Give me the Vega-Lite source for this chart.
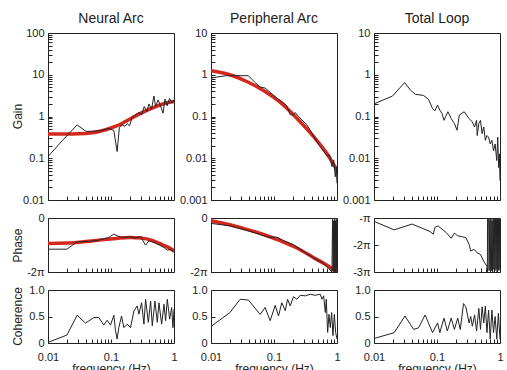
{
"$schema": "https://vega.github.io/schema/vega-lite/v6.json",
"padding": {"left": 10, "top": 11, "right": 2, "bottom": 0},
"config": {
  "font": "Liberation Sans",
  "view": {"stroke": "#222", "strokeWidth": 1},
  "axis": {"grid": false, "domain": false, "tickColor": "#222", "tickSize": -4, "labelColor": "#222", "labelFontSize": 11, "labelPadding": 8, "titleColor": "#222", "titleFontSize": 12, "titleFontWeight": "normal", "labelOverlap": false, "labelFlush": false},
  "title": {"fontSize": 14, "fontWeight": "normal", "color": "#222", "offset": 1}
},
"datasets": {
  "ng": [
    {"f":0.01,"v":0.11},{"f":0.0167,"v":0.26},{"f":0.029,"v":0.63},{"f":0.0403,"v":0.44},{"f":0.064,"v":0.45},{"f":0.0924,"v":0.52},{"f":0.111,"v":0.46},{"f":0.125,"v":0.145},{"f":0.136,"v":0.55},{"f":0.151,"v":0.63},{"f":0.166,"v":0.58},{"f":0.181,"v":0.67},{"f":0.197,"v":0.6},{"f":0.217,"v":0.96},{"f":0.245,"v":1.1},{"f":0.277,"v":1.25},{"f":0.306,"v":1.1},{"f":0.337,"v":1.74},{"f":0.371,"v":1.32},{"f":0.40,"v":2.0},{"f":0.44,"v":1.5},{"f":0.48,"v":3.1},{"f":0.51,"v":1.74},{"f":0.56,"v":2.5},{"f":0.61,"v":1.8},{"f":0.67,"v":1.2},{"f":0.72,"v":2.6},{"f":0.78,"v":1.8},{"f":0.85,"v":2.7},{"f":0.92,"v":2.1},{"f":1.0,"v":2.5}
  ],
  "ngf": [
    {"f":0.01,"v":0.38},{"f":0.02,"v":0.38},{"f":0.03,"v":0.385},{"f":0.05,"v":0.41},{"f":0.07,"v":0.45},{"f":0.1,"v":0.53},{"f":0.15,"v":0.68},{"f":0.2,"v":0.87},{"f":0.3,"v":1.2},{"f":0.5,"v":1.7},{"f":0.7,"v":2.05},{"f":1.0,"v":2.3}
  ],
  "pg": [
    {"f":0.01,"v":0.83},{"f":0.0123,"v":0.88},{"f":0.0177,"v":0.95},{"f":0.0256,"v":0.95},{"f":0.0392,"v":0.95},{"f":0.0501,"v":0.65},{"f":0.0602,"v":0.51},{"f":0.0723,"v":0.48},{"f":0.0868,"v":0.38},{"f":0.111,"v":0.275},{"f":0.133,"v":0.23},{"f":0.16,"v":0.18},{"f":0.181,"v":0.11},{"f":0.204,"v":0.11},{"f":0.217,"v":0.125},{"f":0.245,"v":0.1},{"f":0.277,"v":0.083},{"f":0.333,"v":0.063},{"f":0.4,"v":0.04},{"f":0.48,"v":0.025},{"f":0.543,"v":0.019},{"f":0.614,"v":0.0145},{"f":0.693,"v":0.0114},{"f":0.764,"v":0.012},{"f":0.832,"v":0.0063},{"f":0.885,"v":0.0091},{"f":0.94,"v":0.0036},{"f":0.975,"v":0.0063},{"f":1.0,"v":0.0025}
  ],
  "pgf": [
    {"f":0.01,"v":1.25},{"f":0.02,"v":1.0},{"f":0.037,"v":0.69},{"f":0.068,"v":0.42},{"f":0.125,"v":0.22},{"f":0.23,"v":0.091},{"f":0.425,"v":0.033},{"f":0.69,"v":0.013},{"f":1.0,"v":0.0052}
  ],
  "tg": [
    {"f":0.01,"v":0.2},{"f":0.0197,"v":0.31},{"f":0.0306,"v":0.65},{"f":0.0379,"v":0.43},{"f":0.0453,"v":0.34},{"f":0.061,"v":0.32},{"f":0.073,"v":0.26},{"f":0.085,"v":0.155},{"f":0.0925,"v":0.137},{"f":0.102,"v":0.188},{"f":0.111,"v":0.142},{"f":0.12,"v":0.118},{"f":0.129,"v":0.081},{"f":0.149,"v":0.13},{"f":0.168,"v":0.089},{"f":0.189,"v":0.068},{"f":0.208,"v":0.047},{"f":0.226,"v":0.108},{"f":0.27,"v":0.13},{"f":0.323,"v":0.089},{"f":0.364,"v":0.074},{"f":0.395,"v":0.056},{"f":0.425,"v":0.081},{"f":0.435,"v":0.035},{"f":0.461,"v":0.068},{"f":0.49,"v":0.081},{"f":0.52,"v":0.039},{"f":0.552,"v":0.056},{"f":0.585,"v":0.027},{"f":0.621,"v":0.035},{"f":0.659,"v":0.032},{"f":0.7,"v":0.022},{"f":0.743,"v":0.027},{"f":0.789,"v":0.015},{"f":0.836,"v":0.022},{"f":0.888,"v":0.0088},{"f":0.92,"v":0.032},{"f":0.953,"v":0.006},{"f":0.977,"v":0.0127},{"f":1.0,"v":0.0029}
  ],
  "np": [
    {"f":0.01,"v":-1.155},{"f":0.02,"v":-1.155},{"f":0.029,"v":-0.882},{"f":0.0444,"v":-0.87},{"f":0.064,"v":-0.82},{"f":0.0925,"v":-0.72},{"f":0.111,"v":-0.596},{"f":0.125,"v":-0.658},{"f":0.151,"v":-0.72},{"f":0.204,"v":-0.696},{"f":0.245,"v":-0.745},{"f":0.294,"v":-0.683},{"f":0.333,"v":-0.907},{"f":0.354,"v":-1.006},{"f":0.4,"v":-0.845},{"f":0.481,"v":-0.907},{"f":0.577,"v":-0.994},{"f":0.693,"v":-1.093},{"f":0.783,"v":-1.193},{"f":0.885,"v":-1.155},{"f":1.0,"v":-1.28}
  ],
  "npf": [
    {"f":0.01,"v":-0.944},{"f":0.02,"v":-0.93},{"f":0.04,"v":-0.87},{"f":0.07,"v":-0.81},{"f":0.12,"v":-0.76},{"f":0.2,"v":-0.72},{"f":0.3,"v":-0.74},{"f":0.45,"v":-0.83},{"f":0.6,"v":-0.95},{"f":0.8,"v":-1.08},{"f":1.0,"v":-1.22}
  ],
  "pp": [
    {"f":0.01,"v":-0.2},{"f":0.02,"v":-0.29},{"f":0.037,"v":-0.456},{"f":0.0602,"v":-0.61},{"f":0.0816,"v":-0.71},{"f":0.111,"v":-0.71},{"f":0.1416,"v":-0.835},{"f":0.204,"v":-0.99},{"f":0.294,"v":-1.24},{"f":0.426,"v":-1.47},{"f":0.614,"v":-1.68},{"f":0.736,"v":-1.87},{"f":0.832,"v":-2.0},{"f":0.85,"v":-0.05},{"f":0.87,"v":-1.95},{"f":0.885,"v":-0.1},{"f":0.9,"v":-2.0},{"f":0.915,"v":-0.05},{"f":0.93,"v":-1.95},{"f":0.945,"v":-0.1},{"f":0.96,"v":-2.0},{"f":0.975,"v":-0.05},{"f":0.99,"v":-1.9},{"f":1.0,"v":-0.2}
  ],
  "ppf": [
    {"f":0.01,"v":-0.1},{"f":0.02,"v":-0.25},{"f":0.037,"v":-0.42},{"f":0.068,"v":-0.61},{"f":0.125,"v":-0.84},{"f":0.231,"v":-1.11},{"f":0.426,"v":-1.47},{"f":0.693,"v":-1.75},{"f":1.0,"v":-2.0}
  ],
  "tp": [
    {"f":0.01,"v":-1.125},{"f":0.0209,"v":-1.4375},{"f":0.0403,"v":-1.225},{"f":0.0775,"v":-1.5},{"f":0.0873,"v":-1.6},{"f":0.0925,"v":-1.35},{"f":0.104,"v":-1.29},{"f":0.14,"v":-1.54},{"f":0.168,"v":-1.75},{"f":0.189,"v":-1.56},{"f":0.213,"v":-1.66},{"f":0.255,"v":-1.7},{"f":0.287,"v":-1.725},{"f":0.323,"v":-1.975},{"f":0.343,"v":-2.225},{"f":0.386,"v":-2.16},{"f":0.435,"v":-2.29},{"f":0.49,"v":-2.35},{"f":0.552,"v":-2.6},{"f":0.621,"v":-2.79},{"f":0.63,"v":-3.0},{"f":0.635,"v":-1.0},{"f":0.66,"v":-1.0},{"f":0.67,"v":-2.95},{"f":0.69,"v":-1.05},{"f":0.7,"v":-2.9},{"f":0.72,"v":-1.0},{"f":0.735,"v":-2.95},{"f":0.75,"v":-1.1},{"f":0.765,"v":-3.0},{"f":0.78,"v":-1.0},{"f":0.8,"v":-2.9},{"f":0.815,"v":-1.05},{"f":0.83,"v":-2.95},{"f":0.85,"v":-1.0},{"f":0.865,"v":-2.9},{"f":0.88,"v":-1.05},{"f":0.9,"v":-3.0},{"f":0.915,"v":-1.0},{"f":0.93,"v":-2.95},{"f":0.95,"v":-1.05},{"f":0.965,"v":-2.9},{"f":0.98,"v":-1.0},{"f":1.0,"v":-2.95}
  ],
  "nc": [
    {"f":0.01,"v":0.0125},{"f":0.02,"v":0.15},{"f":0.029,"v":0.525},{"f":0.0393,"v":0.375},{"f":0.0533,"v":0.48},{"f":0.064,"v":0.48},{"f":0.0769,"v":0.3375},{"f":0.0869,"v":0.43},{"f":0.0982,"v":0.3375},{"f":0.111,"v":0.525},{"f":0.118,"v":0.23},{"f":0.125,"v":0.075},{"f":0.133,"v":0.29},{"f":0.147,"v":0.51},{"f":0.16,"v":0.29},{"f":0.181,"v":0.356},{"f":0.204,"v":0.29},{"f":0.231,"v":0.606},{"f":0.261,"v":0.7},{"f":0.277,"v":0.544},{"f":0.306,"v":0.76},{"f":0.333,"v":0.356},{"f":0.354,"v":0.825},{"f":0.391,"v":0.39},{"f":0.426,"v":0.79},{"f":0.452,"v":0.325},{"f":0.499,"v":0.79},{"f":0.543,"v":0.39},{"f":0.577,"v":0.76},{"f":0.637,"v":0.356},{"f":0.693,"v":0.73},{"f":0.736,"v":0.42},{"f":0.783,"v":0.825},{"f":0.853,"v":0.45},{"f":0.918,"v":0.67},{"f":0.964,"v":0.29},{"f":1.0,"v":0.64}
  ],
  "pc": [
    {"f":0.01,"v":0.3125},{"f":0.02,"v":0.575},{"f":0.029,"v":0.825},{"f":0.0392,"v":0.81},{"f":0.0602,"v":0.54},{"f":0.0723,"v":0.67},{"f":0.0868,"v":0.42},{"f":0.1045,"v":0.71},{"f":0.118,"v":0.51},{"f":0.133,"v":0.76},{"f":0.151,"v":0.61},{"f":0.164,"v":0.825},{"f":0.181,"v":0.7},{"f":0.204,"v":0.875},{"f":0.231,"v":0.825},{"f":0.261,"v":0.9},{"f":0.313,"v":0.89},{"f":0.377,"v":0.92},{"f":0.452,"v":0.9},{"f":0.543,"v":0.92},{"f":0.577,"v":0.825},{"f":0.614,"v":0.89},{"f":0.652,"v":0.575},{"f":0.676,"v":0.825},{"f":0.71,"v":0.2},{"f":0.746,"v":0.54},{"f":0.783,"v":0.29},{"f":0.822,"v":0.575},{"f":0.863,"v":0.14},{"f":0.907,"v":0.54},{"f":0.952,"v":0.2},{"f":1.0,"v":0.075}
  ],
  "tc": [
    {"f":0.01,"v":0.085},{"f":0.0209,"v":0.195},{"f":0.031,"v":0.51},{"f":0.0426,"v":0.256},{"f":0.051,"v":0.287},{"f":0.0647,"v":0.53},{"f":0.0851,"v":0.195},{"f":0.102,"v":0.378},{"f":0.111,"v":0.195},{"f":0.129,"v":0.47},{"f":0.146,"v":0.226},{"f":0.168,"v":0.47},{"f":0.189,"v":0.256},{"f":0.213,"v":0.47},{"f":0.234,"v":0.256},{"f":0.264,"v":0.744},{"f":0.287,"v":0.683},{"f":0.323,"v":0.378},{"f":0.343,"v":0.5},{"f":0.364,"v":0.317},{"f":0.395,"v":0.53},{"f":0.425,"v":0.226},{"f":0.461,"v":0.652},{"f":0.49,"v":0.256},{"f":0.52,"v":0.683},{"f":0.552,"v":0.378},{"f":0.585,"v":0.695},{"f":0.621,"v":0.195},{"f":0.659,"v":0.622},{"f":0.7,"v":0.073},{"f":0.743,"v":0.622},{"f":0.789,"v":0.195},{"f":0.836,"v":0.5},{"f":0.888,"v":0.073},{"f":0.942,"v":0.56},{"f":1.0,"v":0.073}
  ]
},
"columns": 3,
"spacing": {"row": 18, "column": 37},
"bounds": "flush",
"concat": [
  {"width": 126, "height": 167, "title": "Neural Arc",
   "layer": [
     {"data": {"name": "ngf"}, "mark": {"type": "line", "color": "#d4281e", "strokeWidth": 3.5, "interpolate": "monotone", "clip": true},
      "encoding": {
        "x": {"field": "f", "type": "quantitative", "scale": {"type": "log", "domain": [0.01, 1]}, "axis": {"values": [0.01,0.02,0.03,0.04,0.05,0.06,0.07,0.08,0.09,0.1,0.2,0.3,0.4,0.5,0.6,0.7,0.8,0.9,1], "labels": false, "title": null}},
        "y": {"field": "v", "type": "quantitative", "scale": {"type": "log", "domain": [0.01, 100]}, "axis": {"values": [0.01,0.02,0.03,0.04,0.05,0.06,0.07,0.08,0.09,0.1,0.2,0.3,0.4,0.5,0.6,0.7,0.8,0.9,1,2,3,4,5,6,7,8,9,10,20,30,40,50,60,70,80,90,100], "labelExpr": "datum.value == 100 ? '100' : datum.value == 10 ? '10' : datum.value == 1 ? '1' : datum.value == 0.1 ? '0.1' : datum.value == 0.01 ? '0.01' : ''", "title": "Gain", "titleX": -24, "titleY": 83}}
      }},
     {"data": {"name": "ng"}, "mark": {"type": "line", "color": "#222", "strokeWidth": 1, "clip": true},
      "encoding": {"x": {"field": "f", "type": "quantitative"}, "y": {"field": "v", "type": "quantitative"}}}
   ]},
  {"width": 126, "height": 167, "title": "Peripheral Arc",
   "layer": [
     {"data": {"name": "pgf"}, "mark": {"type": "line", "color": "#d4281e", "strokeWidth": 3.5, "interpolate": "monotone", "clip": true},
      "encoding": {
        "x": {"field": "f", "type": "quantitative", "scale": {"type": "log", "domain": [0.01, 1]}, "axis": {"values": [0.01,0.02,0.03,0.04,0.05,0.06,0.07,0.08,0.09,0.1,0.2,0.3,0.4,0.5,0.6,0.7,0.8,0.9,1], "labels": false, "title": null}},
        "y": {"field": "v", "type": "quantitative", "scale": {"type": "log", "domain": [0.001, 10]}, "axis": {"values": [0.001,0.002,0.003,0.004,0.005,0.006,0.007,0.008,0.009,0.01,0.02,0.03,0.04,0.05,0.06,0.07,0.08,0.09,0.1,0.2,0.3,0.4,0.5,0.6,0.7,0.8,0.9,1,2,3,4,5,6,7,8,9,10], "labelExpr": "datum.value == 10 ? '10' : datum.value == 1 ? '1' : datum.value == 0.1 ? '0.1' : datum.value == 0.01 ? '0.01' : datum.value == 0.001 ? '0.001' : ''", "title": null}}
      }},
     {"data": {"name": "pg"}, "mark": {"type": "line", "color": "#222", "strokeWidth": 1, "clip": true},
      "encoding": {"x": {"field": "f", "type": "quantitative"}, "y": {"field": "v", "type": "quantitative"}}}
   ]},
  {"width": 126, "height": 167, "title": "Total Loop",
   "data": {"name": "tg"},
   "mark": {"type": "line", "color": "#222", "strokeWidth": 1, "clip": true},
   "encoding": {
     "x": {"field": "f", "type": "quantitative", "scale": {"type": "log", "domain": [0.01, 1]}, "axis": {"values": [0.01,0.02,0.03,0.04,0.05,0.06,0.07,0.08,0.09,0.1,0.2,0.3,0.4,0.5,0.6,0.7,0.8,0.9,1], "labels": false, "title": null}},
     "y": {"field": "v", "type": "quantitative", "scale": {"type": "log", "domain": [0.001, 10]}, "axis": {"values": [0.001,0.002,0.003,0.004,0.005,0.006,0.007,0.008,0.009,0.01,0.02,0.03,0.04,0.05,0.06,0.07,0.08,0.09,0.1,0.2,0.3,0.4,0.5,0.6,0.7,0.8,0.9,1,2,3,4,5,6,7,8,9,10], "labelExpr": "datum.value == 10 ? '10' : datum.value == 1 ? '1' : datum.value == 0.1 ? '0.1' : datum.value == 0.01 ? '0.01' : datum.value == 0.001 ? '0.001' : ''", "title": null}}
   }},
  {"width": 126, "height": 54,
   "layer": [
     {"data": {"name": "npf"}, "mark": {"type": "line", "color": "#d4281e", "strokeWidth": 3.5, "interpolate": "monotone", "clip": true},
      "encoding": {
        "x": {"field": "f", "type": "quantitative", "scale": {"type": "log", "domain": [0.01, 1]}, "axis": {"values": [0.01,0.02,0.03,0.04,0.05,0.06,0.07,0.08,0.09,0.1,0.2,0.3,0.4,0.5,0.6,0.7,0.8,0.9,1], "labels": false, "title": null}},
        "y": {"field": "v", "type": "quantitative", "scale": {"domain": [-2, 0], "nice": false, "zero": false}, "axis": {"values": [-2, -1, 0], "labelExpr": "datum.value == 0 ? '0' : datum.value == -1 ? '-π' : '-2π'", "title": "Phase", "titleX": -24, "titleY": 27}}
      }},
     {"data": {"name": "np"}, "mark": {"type": "line", "color": "#222", "strokeWidth": 1, "clip": true},
      "encoding": {"x": {"field": "f", "type": "quantitative"}, "y": {"field": "v", "type": "quantitative"}}}
   ]},
  {"width": 126, "height": 54,
   "layer": [
     {"data": {"name": "ppf"}, "mark": {"type": "line", "color": "#d4281e", "strokeWidth": 3.5, "interpolate": "monotone", "clip": true},
      "encoding": {
        "x": {"field": "f", "type": "quantitative", "scale": {"type": "log", "domain": [0.01, 1]}, "axis": {"values": [0.01,0.02,0.03,0.04,0.05,0.06,0.07,0.08,0.09,0.1,0.2,0.3,0.4,0.5,0.6,0.7,0.8,0.9,1], "labels": false, "title": null}},
        "y": {"field": "v", "type": "quantitative", "scale": {"domain": [-2, 0], "nice": false, "zero": false}, "axis": {"values": [-2, -1, 0], "labelExpr": "datum.value == 0 ? '0' : datum.value == -1 ? '-π' : '-2π'", "title": null}}
      }},
     {"data": {"name": "pp"}, "mark": {"type": "line", "color": "#222", "strokeWidth": 1, "clip": true},
      "encoding": {"x": {"field": "f", "type": "quantitative"}, "y": {"field": "v", "type": "quantitative"}}}
   ]},
  {"width": 126, "height": 54,
   "data": {"name": "tp"},
   "mark": {"type": "line", "color": "#222", "strokeWidth": 1, "clip": true},
   "encoding": {
     "x": {"field": "f", "type": "quantitative", "scale": {"type": "log", "domain": [0.01, 1]}, "axis": {"values": [0.01,0.02,0.03,0.04,0.05,0.06,0.07,0.08,0.09,0.1,0.2,0.3,0.4,0.5,0.6,0.7,0.8,0.9,1], "labels": false, "title": null}},
     "y": {"field": "v", "type": "quantitative", "scale": {"domain": [-3, -1], "nice": false, "zero": false}, "axis": {"values": [-3, -2, -1], "labelExpr": "datum.value == -1 ? '-π' : datum.value == -2 ? '-2π' : '-3π'", "title": null}}
   }},
  {"width": 126, "height": 53,
   "data": {"name": "nc"},
   "mark": {"type": "line", "color": "#222", "strokeWidth": 1, "clip": true},
   "encoding": {
     "x": {"field": "f", "type": "quantitative", "scale": {"type": "log", "domain": [0.01, 1]}, "axis": {"values": [0.01,0.02,0.03,0.04,0.05,0.06,0.07,0.08,0.09,0.1,0.2,0.3,0.4,0.5,0.6,0.7,0.8,0.9,1], "labelExpr": "datum.value == 0.01 ? '0.01' : datum.value == 0.1 ? '0.1' : datum.value == 1 ? '1' : ''", "labelPadding": 12, "title": "frequency (Hz)", "titlePadding": 1}},
     "y": {"field": "v", "type": "quantitative", "scale": {"domain": [0, 1], "nice": false}, "axis": {"values": [0, 0.5, 1], "labelExpr": "datum.value == 1 ? '1.0' : datum.value == 0.5 ? '0.5' : '0'", "title": "Coherence", "titleX": -24, "titleY": 26}}
   }},
  {"width": 126, "height": 53,
   "data": {"name": "pc"},
   "mark": {"type": "line", "color": "#222", "strokeWidth": 1, "clip": true},
   "encoding": {
     "x": {"field": "f", "type": "quantitative", "scale": {"type": "log", "domain": [0.01, 1]}, "axis": {"values": [0.01,0.02,0.03,0.04,0.05,0.06,0.07,0.08,0.09,0.1,0.2,0.3,0.4,0.5,0.6,0.7,0.8,0.9,1], "labelExpr": "datum.value == 0.01 ? '0.01' : datum.value == 0.1 ? '0.1' : datum.value == 1 ? '1' : ''", "labelPadding": 12, "title": "frequency (Hz)", "titlePadding": 1}},
     "y": {"field": "v", "type": "quantitative", "scale": {"domain": [0, 1], "nice": false}, "axis": {"values": [0, 0.5, 1], "labelExpr": "datum.value == 1 ? '1.0' : datum.value == 0.5 ? '0.5' : '0'", "title": null}}
   }},
  {"width": 126, "height": 53,
   "data": {"name": "tc"},
   "mark": {"type": "line", "color": "#222", "strokeWidth": 1, "clip": true},
   "encoding": {
     "x": {"field": "f", "type": "quantitative", "scale": {"type": "log", "domain": [0.01, 1]}, "axis": {"values": [0.01,0.02,0.03,0.04,0.05,0.06,0.07,0.08,0.09,0.1,0.2,0.3,0.4,0.5,0.6,0.7,0.8,0.9,1], "labelExpr": "datum.value == 0.01 ? '0.01' : datum.value == 0.1 ? '0.1' : datum.value == 1 ? '1' : ''", "labelPadding": 12, "title": "frequency (Hz)", "titlePadding": 1}},
     "y": {"field": "v", "type": "quantitative", "scale": {"domain": [0, 1], "nice": false}, "axis": {"values": [0, 0.5, 1], "labelExpr": "datum.value == 1 ? '1.0' : datum.value == 0.5 ? '0.5' : '0'", "title": null}}
   }}
]
}
